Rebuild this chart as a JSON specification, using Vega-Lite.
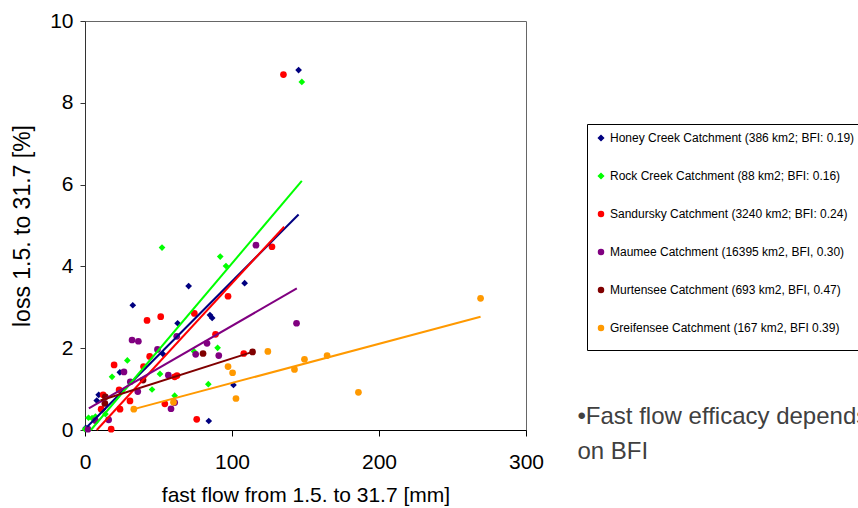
{
  "$schema": "https://vega.github.io/schema/vega-lite/v6.json",
  "width": 441,
  "height": 409,
  "autosize": {"type": "none"},
  "padding": {"left": 85, "top": 21, "right": 332, "bottom": 78},
  "background": "white",
  "config": {
    "font": "Liberation Sans",
    "view": {"stroke": "#666666", "strokeWidth": 1},
    "axis": {"grid": false, "labelFont": "Liberation Sans", "titleFont": "Liberation Sans", "labelColor": "black", "titleColor": "black", "titleFontWeight": "normal", "domainColor": "black", "tickColor": "black"},
    "legend": {"labelFont": "Liberation Sans"}
  },
  "datasets": {
    "pts": [
      {"series": "Honey Creek Catchment (386 km2; BFI: 0.19)", "x": 145.3, "y": 8.80},
      {"series": "Honey Creek Catchment (386 km2; BFI: 0.19)", "x": 108.6, "y": 3.59},
      {"series": "Honey Creek Catchment (386 km2; BFI: 0.19)", "x": 70.5, "y": 3.52},
      {"series": "Honey Creek Catchment (386 km2; BFI: 0.19)", "x": 32.5, "y": 3.05},
      {"series": "Honey Creek Catchment (386 km2; BFI: 0.19)", "x": 63.0, "y": 2.61},
      {"series": "Honey Creek Catchment (386 km2; BFI: 0.19)", "x": 85.0, "y": 2.81},
      {"series": "Honey Creek Catchment (386 km2; BFI: 0.19)", "x": 86.5, "y": 2.74},
      {"series": "Honey Creek Catchment (386 km2; BFI: 0.19)", "x": 53.0, "y": 1.86},
      {"series": "Honey Creek Catchment (386 km2; BFI: 0.19)", "x": 23.7, "y": 1.41},
      {"series": "Honey Creek Catchment (386 km2; BFI: 0.19)", "x": 9.3, "y": 0.86},
      {"series": "Honey Creek Catchment (386 km2; BFI: 0.19)", "x": 8.0, "y": 0.72},
      {"series": "Honey Creek Catchment (386 km2; BFI: 0.19)", "x": 12.0, "y": 0.50},
      {"series": "Honey Creek Catchment (386 km2; BFI: 0.19)", "x": 101.0, "y": 1.10},
      {"series": "Honey Creek Catchment (386 km2; BFI: 0.19)", "x": 84.2, "y": 0.22},
      {"series": "Honey Creek Catchment (386 km2; BFI: 0.19)", "x": 0.5, "y": 0.05},
      {"series": "Rock Creek Catchment (88 km2; BFI: 0.16)", "x": 147.5, "y": 8.51},
      {"series": "Rock Creek Catchment (88 km2; BFI: 0.16)", "x": 52.4, "y": 4.46},
      {"series": "Rock Creek Catchment (88 km2; BFI: 0.16)", "x": 92.0, "y": 4.24},
      {"series": "Rock Creek Catchment (88 km2; BFI: 0.16)", "x": 95.9, "y": 4.01},
      {"series": "Rock Creek Catchment (88 km2; BFI: 0.16)", "x": 28.8, "y": 1.70},
      {"series": "Rock Creek Catchment (88 km2; BFI: 0.16)", "x": 18.4, "y": 1.30},
      {"series": "Rock Creek Catchment (88 km2; BFI: 0.16)", "x": 51.0, "y": 1.37},
      {"series": "Rock Creek Catchment (88 km2; BFI: 0.16)", "x": 45.6, "y": 0.99},
      {"series": "Rock Creek Catchment (88 km2; BFI: 0.16)", "x": 74.2, "y": 1.92},
      {"series": "Rock Creek Catchment (88 km2; BFI: 0.16)", "x": 90.2, "y": 2.01},
      {"series": "Rock Creek Catchment (88 km2; BFI: 0.16)", "x": 83.9, "y": 1.12},
      {"series": "Rock Creek Catchment (88 km2; BFI: 0.16)", "x": 61.0, "y": 0.84},
      {"series": "Rock Creek Catchment (88 km2; BFI: 0.16)", "x": 2.4, "y": 0.30},
      {"series": "Rock Creek Catchment (88 km2; BFI: 0.16)", "x": 4.8, "y": 0.29},
      {"series": "Rock Creek Catchment (88 km2; BFI: 0.16)", "x": 7.1, "y": 0.33},
      {"series": "Rock Creek Catchment (88 km2; BFI: 0.16)", "x": 13.9, "y": 0.39},
      {"series": "Rock Creek Catchment (88 km2; BFI: 0.16)", "x": 0.0, "y": 0.02},
      {"series": "Sandursky Catchment (3240 km2; BFI: 0.24)", "x": 135.0, "y": 8.69},
      {"series": "Sandursky Catchment (3240 km2; BFI: 0.24)", "x": 127.2, "y": 4.48},
      {"series": "Sandursky Catchment (3240 km2; BFI: 0.24)", "x": 97.3, "y": 3.27},
      {"series": "Sandursky Catchment (3240 km2; BFI: 0.24)", "x": 74.4, "y": 2.85},
      {"series": "Sandursky Catchment (3240 km2; BFI: 0.24)", "x": 42.2, "y": 2.68},
      {"series": "Sandursky Catchment (3240 km2; BFI: 0.24)", "x": 51.5, "y": 2.77},
      {"series": "Sandursky Catchment (3240 km2; BFI: 0.24)", "x": 88.8, "y": 2.34},
      {"series": "Sandursky Catchment (3240 km2; BFI: 0.24)", "x": 44.0, "y": 1.80},
      {"series": "Sandursky Catchment (3240 km2; BFI: 0.24)", "x": 19.8, "y": 1.59},
      {"series": "Sandursky Catchment (3240 km2; BFI: 0.24)", "x": 39.8, "y": 1.55},
      {"series": "Sandursky Catchment (3240 km2; BFI: 0.24)", "x": 23.2, "y": 0.98},
      {"series": "Sandursky Catchment (3240 km2; BFI: 0.24)", "x": 108.0, "y": 1.87},
      {"series": "Sandursky Catchment (3240 km2; BFI: 0.24)", "x": 61.0, "y": 1.30},
      {"series": "Sandursky Catchment (3240 km2; BFI: 0.24)", "x": 62.6, "y": 1.33},
      {"series": "Sandursky Catchment (3240 km2; BFI: 0.24)", "x": 30.6, "y": 0.71},
      {"series": "Sandursky Catchment (3240 km2; BFI: 0.24)", "x": 23.8, "y": 0.51},
      {"series": "Sandursky Catchment (3240 km2; BFI: 0.24)", "x": 11.0, "y": 0.51},
      {"series": "Sandursky Catchment (3240 km2; BFI: 0.24)", "x": 12.3, "y": 0.86},
      {"series": "Sandursky Catchment (3240 km2; BFI: 0.24)", "x": 54.3, "y": 0.64},
      {"series": "Sandursky Catchment (3240 km2; BFI: 0.24)", "x": 76.0, "y": 0.26},
      {"series": "Sandursky Catchment (3240 km2; BFI: 0.24)", "x": 17.8, "y": 0.02},
      {"series": "Maumee Catchment (16395 km2, BFI, 0.30)", "x": 116.3, "y": 4.52},
      {"series": "Maumee Catchment (16395 km2, BFI, 0.30)", "x": 143.9, "y": 2.61},
      {"series": "Maumee Catchment (16395 km2, BFI, 0.30)", "x": 32.0, "y": 2.20},
      {"series": "Maumee Catchment (16395 km2, BFI, 0.30)", "x": 36.3, "y": 2.17},
      {"series": "Maumee Catchment (16395 km2, BFI, 0.30)", "x": 62.4, "y": 2.29},
      {"series": "Maumee Catchment (16395 km2, BFI, 0.30)", "x": 49.3, "y": 1.97},
      {"series": "Maumee Catchment (16395 km2, BFI, 0.30)", "x": 75.3, "y": 1.85},
      {"series": "Maumee Catchment (16395 km2, BFI, 0.30)", "x": 83.0, "y": 2.12},
      {"series": "Maumee Catchment (16395 km2, BFI, 0.30)", "x": 91.0, "y": 1.82},
      {"series": "Maumee Catchment (16395 km2, BFI, 0.30)", "x": 26.5, "y": 1.42},
      {"series": "Maumee Catchment (16395 km2, BFI, 0.30)", "x": 30.8, "y": 1.18},
      {"series": "Maumee Catchment (16395 km2, BFI, 0.30)", "x": 56.7, "y": 1.34},
      {"series": "Maumee Catchment (16395 km2, BFI, 0.30)", "x": 35.9, "y": 0.94},
      {"series": "Maumee Catchment (16395 km2, BFI, 0.30)", "x": 58.5, "y": 0.52},
      {"series": "Maumee Catchment (16395 km2, BFI, 0.30)", "x": 61.0, "y": 0.67},
      {"series": "Maumee Catchment (16395 km2, BFI, 0.30)", "x": 16.1, "y": 0.25},
      {"series": "Maumee Catchment (16395 km2, BFI, 0.30)", "x": 7.1, "y": 0.23},
      {"series": "Maumee Catchment (16395 km2, BFI, 0.30)", "x": 2.0, "y": 0.02},
      {"series": "Murtensee Catchment (693 km2, BFI, 0.47)", "x": 114.0, "y": 1.91},
      {"series": "Murtensee Catchment (693 km2, BFI, 0.47)", "x": 80.3, "y": 1.87},
      {"series": "Murtensee Catchment (693 km2, BFI, 0.47)", "x": 39.5, "y": 1.22},
      {"series": "Murtensee Catchment (693 km2, BFI, 0.47)", "x": 13.8, "y": 0.81},
      {"series": "Murtensee Catchment (693 km2, BFI, 0.47)", "x": 13.5, "y": 0.65},
      {"series": "Greifensee Catchment (167 km2, BFI 0.39)", "x": 33.2, "y": 0.51},
      {"series": "Greifensee Catchment (167 km2, BFI 0.39)", "x": 60.2, "y": 0.68},
      {"series": "Greifensee Catchment (167 km2, BFI 0.39)", "x": 97.3, "y": 1.55},
      {"series": "Greifensee Catchment (167 km2, BFI 0.39)", "x": 100.4, "y": 1.40},
      {"series": "Greifensee Catchment (167 km2, BFI 0.39)", "x": 102.7, "y": 0.77},
      {"series": "Greifensee Catchment (167 km2, BFI 0.39)", "x": 124.4, "y": 1.92},
      {"series": "Greifensee Catchment (167 km2, BFI 0.39)", "x": 142.5, "y": 1.48},
      {"series": "Greifensee Catchment (167 km2, BFI 0.39)", "x": 149.3, "y": 1.73},
      {"series": "Greifensee Catchment (167 km2, BFI 0.39)", "x": 164.7, "y": 1.82},
      {"series": "Greifensee Catchment (167 km2, BFI 0.39)", "x": 186.0, "y": 0.92},
      {"series": "Greifensee Catchment (167 km2, BFI 0.39)", "x": 269.1, "y": 3.22}
    ],
    "lines": [
      {"series": "Honey Creek Catchment (386 km2; BFI: 0.19)", "x": 1.5, "y": 0.08},
      {"series": "Honey Creek Catchment (386 km2; BFI: 0.19)", "x": 145.3, "y": 5.27},
      {"series": "Rock Creek Catchment (88 km2; BFI: 0.16)", "x": 4.0, "y": 0.0},
      {"series": "Rock Creek Catchment (88 km2; BFI: 0.16)", "x": 147.5, "y": 6.09},
      {"series": "Sandursky Catchment (3240 km2; BFI: 0.24)", "x": 8.0, "y": 0.0},
      {"series": "Sandursky Catchment (3240 km2; BFI: 0.24)", "x": 135.5, "y": 4.97},
      {"series": "Maumee Catchment (16395 km2, BFI, 0.30)", "x": 2.6, "y": 0.53},
      {"series": "Maumee Catchment (16395 km2, BFI, 0.30)", "x": 144.1, "y": 3.46},
      {"series": "Murtensee Catchment (693 km2, BFI, 0.47)", "x": 10.5, "y": 0.72},
      {"series": "Murtensee Catchment (693 km2, BFI, 0.47)", "x": 114.0, "y": 1.91},
      {"series": "Greifensee Catchment (167 km2, BFI 0.39)", "x": 33.2, "y": 0.51},
      {"series": "Greifensee Catchment (167 km2, BFI 0.39)", "x": 269.1, "y": 2.77}
    ],
    "notes": [
      {"x": 335, "y": 0.33, "text": "•Fast flow efficacy depends"},
      {"x": 335, "y": -0.53, "text": "on BFI"}
    ]
  },
  "encoding": {
    "x": {
      "field": "x", "type": "quantitative",
      "scale": {"domain": [0, 300], "nice": false, "zero": false},
      "axis": {"values": [0, 100, 200, 300], "title": "fast flow from 1.5. to 31.7 [mm]", "labelFontSize": 21, "titleFontSize": 21, "tickSize": 6, "labelPadding": 15, "titlePadding": 12, "labelFlush": false, "labelOverlap": false}
    },
    "y": {
      "field": "y", "type": "quantitative",
      "scale": {"domain": [0, 10], "nice": false, "zero": false},
      "axis": {"values": [0, 2, 4, 6, 8, 10], "title": "loss 1.5. to 31.7 [%]", "labelFontSize": 21, "titleFontSize": 23, "tickSize": 5, "labelPadding": 7, "titlePadding": 15, "labelFlush": false, "labelOverlap": false, "domainColor": "#333333", "tickColor": "#333333"}
    }
  },
  "layer": [
    {
      "data": {"name": "pts"},
      "mark": {"type": "point", "filled": true, "opacity": 1, "size": 45},
      "encoding": {
        "color": {
          "field": "series", "type": "nominal",
          "scale": {
            "domain": ["Honey Creek Catchment (386 km2; BFI: 0.19)", "Rock Creek Catchment (88 km2; BFI: 0.16)", "Sandursky Catchment (3240 km2; BFI: 0.24)", "Maumee Catchment (16395 km2, BFI, 0.30)", "Murtensee Catchment (693 km2, BFI, 0.47)", "Greifensee Catchment (167 km2, BFI 0.39)"],
            "range": ["#000080", "#00FF00", "#FF0000", "#800080", "#800000", "#FF9900"]
          },
          "legend": {"orient": "none", "legendX": 502, "legendY": 103, "title": " ", "titleOrient": "bottom", "titleFontSize": 2, "titlePadding": 6, "strokeColor": "black", "fillColor": "white", "padding": 8, "labelFontSize": 12, "labelColor": "black", "symbolSize": 25, "rowPadding": 26, "labelOffset": 3, "labelLimit": 400}
        },
        "shape": {
          "field": "series", "type": "nominal",
          "scale": {
            "domain": ["Honey Creek Catchment (386 km2; BFI: 0.19)", "Rock Creek Catchment (88 km2; BFI: 0.16)", "Sandursky Catchment (3240 km2; BFI: 0.24)", "Maumee Catchment (16395 km2, BFI, 0.30)", "Murtensee Catchment (693 km2, BFI, 0.47)", "Greifensee Catchment (167 km2, BFI 0.39)"],
            "range": ["diamond", "diamond", "circle", "circle", "circle", "circle"]
          },
          "legend": {"orient": "none", "legendX": 502, "legendY": 103, "title": " ", "titleOrient": "bottom", "titleFontSize": 2, "titlePadding": 6, "strokeColor": "black", "fillColor": "white", "padding": 8, "labelFontSize": 12, "labelColor": "black", "symbolSize": 25, "rowPadding": 26, "labelOffset": 3, "labelLimit": 400}
        }
      }
    },
    {
      "data": {"name": "lines"},
      "mark": {"type": "line", "strokeWidth": 2},
      "encoding": {
        "color": {"field": "series", "type": "nominal", "legend": null},
        "detail": {"field": "series"}
      }
    },
    {
      "data": {"name": "notes"},
      "mark": {"type": "text", "align": "left", "baseline": "middle", "fontSize": 24, "color": "#404040", "font": "Liberation Sans"},
      "encoding": {
        "text": {"field": "text"}
      }
    }
  ]
}
